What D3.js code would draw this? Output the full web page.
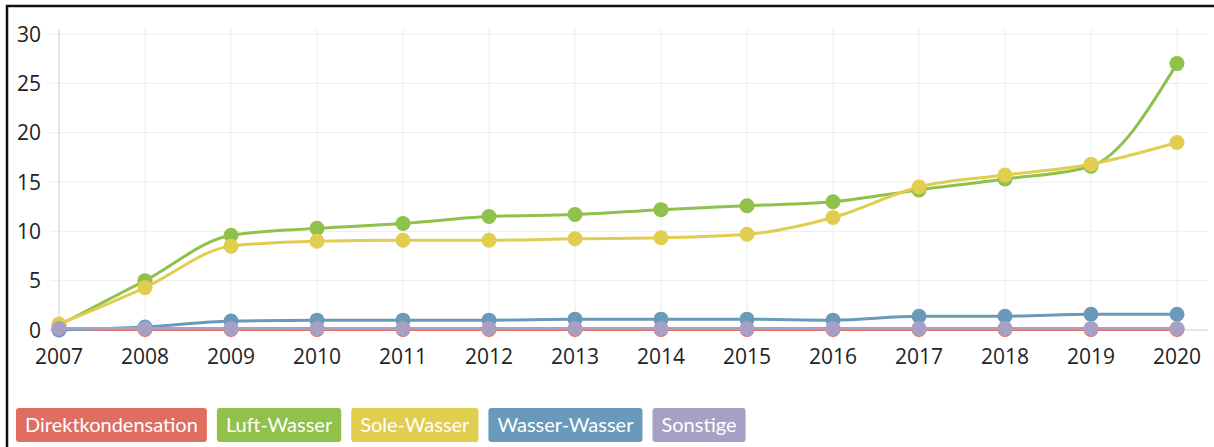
<!DOCTYPE html>
<html lang="de">
<head>
<meta charset="UTF-8">
<title>Wärmepumpen</title>
<script src="https://cdn.jsdelivr.net/npm/d3@7"></script>
<style>
  body { margin: 0; background: #fff; }
  svg { display: block; }
</style>
</head>
<body>
<div id="chart"></div>
<script>
const years = [2007, 2008, 2009, 2010, 2011, 2012, 2013, 2014, 2015, 2016, 2017, 2018, 2019, 2020];
const yTicks = [0, 5, 10, 15, 20, 25, 30];

const direktkondensation = [0.05, 0.05, 0.05, 0.05, 0.05, 0.05, 0.05, 0.05, 0.05, 0.05, 0.05, 0.05, 0.05, 0.05];
const luftWasser = [0.5, 5.0, 9.6, 10.3, 10.8, 11.5, 11.7, 12.2, 12.6, 13.0, 14.2, 15.3, 16.6, 27.0];
const soleWasser = [0.6, 4.3, 8.5, 9.0, 9.1, 9.1, 9.25, 9.35, 9.7, 11.4, 14.5, 15.7, 16.8, 19.0];
const wasserWasser = [0.0, 0.3, 0.9, 1.0, 1.0, 1.0, 1.1, 1.1, 1.1, 1.0, 1.4, 1.4, 1.6, 1.6];
const sonstige = [0.15, 0.15, 0.15, 0.15, 0.15, 0.15, 0.15, 0.15, 0.15, 0.15, 0.15, 0.15, 0.15, 0.15];

const series = [
    { name: "Direktkondensation", color: "#e06e60", values: direktkondensation },
    { name: "Luft-Wasser", color: "#8fc14b", values: luftWasser },
    { name: "Sole-Wasser", color: "#e1cd4e", values: soleWasser },
    { name: "Wasser-Wasser", color: "#6a9aba", values: wasserWasser },
    { name: "Sonstige", color: "#a89fc5", values: sonstige }
];

const width = 1214;
const height = 447;

const svg = d3.select("#chart").append("svg")
    .attr("width", width)
    .attr("height", height);

// frame of the screenshot
svg.append("line").attr("x1", 7).attr("x2", 7).attr("y1", 5).attr("y2", height)
    .attr("stroke", "#111").attr("stroke-width", 2.5);
svg.append("line").attr("x1", 6).attr("x2", width).attr("y1", 6).attr("y2", 6)
    .attr("stroke", "#111").attr("stroke-width", 2.5);

const x = d3.scalePoint().domain(years).range([59, 1177]);
const y = d3.scaleLinear().domain([0, 30]).range([330, 34]);

// horizontal grid
svg.append("g")
    .selectAll("line")
    .data(yTicks)
    .enter()
    .append("line")
    .attr("x1", 50).attr("x2", 1208)
    .attr("y1", d => y(d)).attr("y2", d => y(d))
    .attr("stroke", d => d === 0 ? "#dcdcdc" : "#ededed")
    .attr("stroke-width", d => d === 0 ? 1.5 : 1);

// vertical grid
svg.append("g")
    .selectAll("line")
    .data(years)
    .enter()
    .append("line")
    .attr("x1", d => x(d)).attr("x2", d => x(d))
    .attr("y1", 29).attr("y2", 338)
    .attr("stroke", (d, i) => i === 0 ? "#dcdcdc" : "#ededed")
    .attr("stroke-width", (d, i) => i === 0 ? 1.5 : 1);

// y labels
svg.append("g")
    .selectAll("text")
    .data(yTicks)
    .enter()
    .append("text")
    .attr("x", 41)
    .attr("y", d => y(d))
    .attr("dy", "0.36em")
    .attr("text-anchor", "end")
    .style("font-family", "'Open Sans', sans-serif")
    .style("font-size", "21px")
    .attr("fill", "#222")
    .text(d => d);

// x labels
svg.append("g")
    .selectAll("text")
    .data(years)
    .enter()
    .append("text")
    .attr("x", d => x(d))
    .attr("y", 364)
    .attr("text-anchor", "middle")
    .style("font-family", "'Open Sans', sans-serif")
    .style("font-size", "21px")
    .attr("fill", "#222")
    .text(d => d);

const line = d3.line()
    .x((d, i) => x(years[i]))
    .y(d => y(d))
    .curve(d3.curveMonotoneX);

series.forEach(s => {
    const g = svg.append("g");
    g.append("path")
        .datum(s.values)
        .attr("d", line)
        .attr("fill", "none")
        .attr("stroke", s.color)
        .attr("stroke-width", 3);
    g.selectAll("circle")
        .data(s.values)
        .enter()
        .append("circle")
        .attr("cx", (d, i) => x(years[i]))
        .attr("cy", d => y(d))
        .attr("r", 7.5)
        .attr("fill", s.color);
});

// legend
const legend = svg.append("g");
let lx = 16;
series.forEach(s => {
    const item = legend.append("g");
    const rect = item.append("rect")
        .attr("y", 408)
        .attr("height", 34)
        .attr("rx", 3)
        .attr("fill", s.color);
    const label = item.append("text")
        .attr("y", 432)
        .attr("fill", "#fff")
        .style("font-family", "Lato, sans-serif")
        .style("font-size", "20px")
        .text(s.name);
    const w = label.node().getComputedTextLength();
    rect.attr("x", lx).attr("width", w + 18);
    label.attr("x", lx + 9);
    lx += w + 18 + 10;
});
</script>
</body>
</html>
